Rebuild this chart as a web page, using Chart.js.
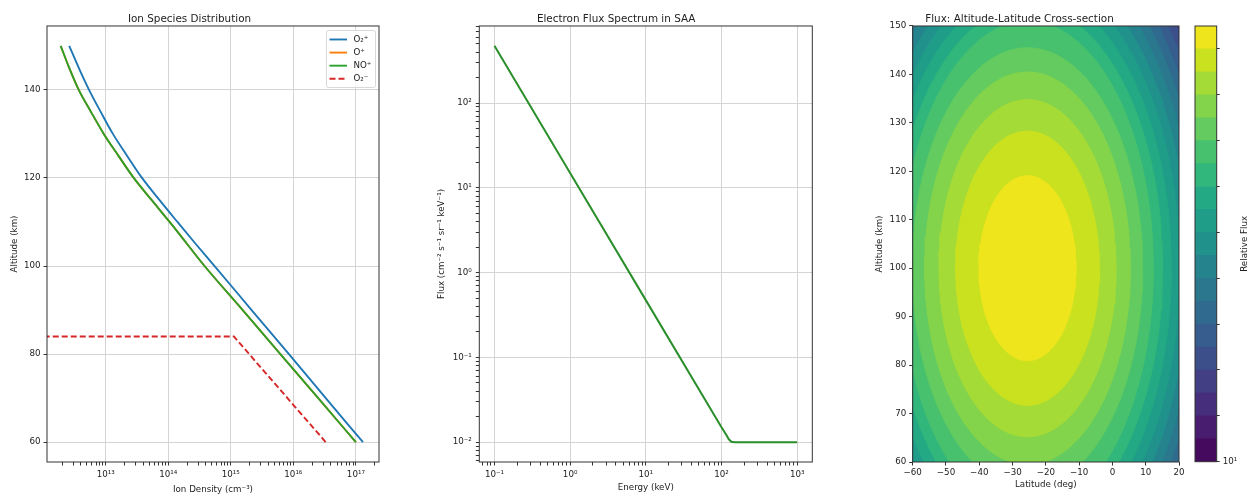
<!DOCTYPE html>
<html>
<head>
<meta charset="utf-8">
<script src="https://cdn.jsdelivr.net/npm/chart.js@4.4.1/dist/chart.umd.min.js"></script>
<style>
    html, body { margin: 0; padding: 0; background: #fff; }
    body { width: 1251px; height: 495px; position: relative; overflow: hidden; }
    .panel { position: absolute; top: 0; height: 495px; }
</style>
</head>
<body>
<div class="panel" style="left:0;width:400px"><canvas id="ionChart"></canvas></div>
<div class="panel" style="left:420px;width:420px"><canvas id="fluxChart"></canvas></div>
<div class="panel" style="left:860px;width:327px"><canvas id="crossChart"></canvas></div>
<div class="panel" style="left:1185px;width:66px"><canvas id="colorbarChart"></canvas></div>
<script>
"use strict";

// ---------------- Ion species (altitude vs density) ----------------
const altitudes = [150, 145, 140, 135, 130, 125, 120, 115, 110, 105, 100, 90, 80, 70, 60];
const o2PlusDensity = [2.6e12, 3.7e12, 5.4e12, 8.3e12, 1.3e13, 2.2e13, 3.8e13, 7.2e13, 1.4e14, 2.75e14, 5.5e14, 2.15e15, 8.5e15, 3.3e16, 1.3e17];
const oPlusDensity = [1.9e12, 2.6e12, 3.7e12, 5.8e12, 9.3e12, 1.6e13, 2.8e13, 5.4e13, 1.05e14, 2.0e14, 3.8e14, 1.55e15, 6.2e15, 2.5e16, 1.0e17];
const noPlusDensity = [1.9e12, 2.6e12, 3.7e12, 5.8e12, 9.3e12, 1.6e13, 2.8e13, 5.4e13, 1.05e14, 2.0e14, 3.8e14, 1.55e15, 6.2e15, 2.5e16, 1.0e17];
const o2MinusAltitudes = [84, 84, 60];
const o2MinusDensity = [1e11, 1.12e15, 3.3e16];
const ionLabels = ['O\u2082\u207A', 'O\u207A', 'NO\u207A', 'O\u2082\u207B'];
const densityTicks = [1e13, 1e14, 1e15, 1e16, 1e17];
const densityTickLabels = ['10\u00B9\u00B3', '10\u00B9\u2074', '10\u00B9\u2075', '10\u00B9\u2076', '10\u00B9\u2077'];
const altitudeTicks = [60, 80, 100, 120, 140];

// ---------------- Electron flux spectrum ----------------
const energies = [0.1, 1, 10, 100, 115, 125, 135, 150, 200, 1000];
const electronFlux = [474, 15, 0.474, 0.015, 0.0123, 0.0108, 0.0101, 0.01, 0.01, 0.01];
const energyTicks = [0.1, 1, 10, 100, 1000];
const energyTickLabels = ['10\u207B\u00B9', '10\u2070', '10\u00B9', '10\u00B2', '10\u00B3'];
const fluxTicks = [0.01, 0.1, 1, 10, 100];
const fluxTickLabels = ['10\u207B\u00B2', '10\u207B\u00B9', '10\u2070', '10\u00B9', '10\u00B2'];

// ---------------- Altitude-latitude cross-section ----------------
const peakLatitude = -25.5;
const peakAltitude = 100;
// half widths of each filled contour boundary, innermost first
const contourLatHalf = [14.6, 21.6, 26.6, 30.9, 34.6, 37.8, 40.6, 43.2, 45.7, 48.1, 50.4, 52.6, 54.7, 56.8, 58.8, 60.8, 62.8, 64.8];
const contourAltHalf = [19.1, 28.3, 34.8, 40.5, 45.5, 51.0, 54.2, 57.6, 60.8, 63.8, 66.7, 69.4, 72.0, 74.5, 76.9, 79.2, 81.5, 83.8];
const fluxLevels = [10, 15, 20, 25, 30, 35, 40, 45, 50, 55, 60, 65, 70, 75, 80, 85, 90, 95, 100, 105];
const fluxColors = ['#450a5d', '#481d6f', '#472e7c', '#423f85', '#3c4f8a', '#365d8d', '#306a8e', '#2b778e', '#25838e',
    '#21918c', '#1f9d89', '#23a983', '#31b67b', '#48c16e', '#63cb5f', '#84d44b', '#a5db36', '#cae11f', '#eee51c'];
const latitudeTicks = [-60, -50, -40, -30, -20, -10, 0, 10, 20];
const crossAltitudeTicks = [60, 70, 80, 90, 100, 110, 120, 130, 140, 150];
const colorbarTicks = [10, 20, 30, 40, 50, 60, 70, 80, 90, 100];

// ---------------- shared styling ----------------
const FONT = 'DejaVu Sans';
const TEXT = '#222';
const GRID = '#d4d4d4';
Chart.defaults.font.family = FONT;
Chart.defaults.color = TEXT;
Chart.defaults.animation = false;

function tickFont() { return { size: 8.7 }; }

function logTicks(lo, hi, majors) {
    const ticks = [];
    for (let e = Math.floor(Math.log10(lo)); e <= Math.ceil(Math.log10(hi)); e++) {
        for (let m = 1; m <= 9; m++) {
            const v = m * Math.pow(10, e);
            if (v >= lo && v <= hi) {
                const idx = majors.findIndex(t => Math.abs(Math.log10(t) - Math.log10(v)) < 1e-6);
                ticks.push({ value: v, minor: idx < 0, majorIndex: idx });
            }
        }
    }
    return ticks;
}

// axes frame like matplotlib spines
const frame = {
    id: 'frame',
    afterDatasetsDraw(chart) {
        const { ctx, chartArea: a } = chart;
        ctx.save();
        ctx.strokeStyle = '#333';
        ctx.lineWidth = 1;
        ctx.strokeRect(a.left, a.top, a.right - a.left, a.bottom - a.top);
        ctx.restore();
    }
};

// legend in the upper right corner of the ion chart
const ionLegend = {
    id: 'ionLegend',
    afterDraw(chart) {
        const { ctx, chartArea } = chart;
        const w = 49, h = 57;
        const x0 = chartArea.right - 4 - w;
        const y0 = chartArea.top + 4;
        ctx.save();
        ctx.fillStyle = 'rgba(255,255,255,0.85)';
        ctx.strokeStyle = '#d8d8d8';
        ctx.lineWidth = 1;
        ctx.beginPath();
        ctx.roundRect(x0 + 0.5, y0 + 0.5, w, h, 2);
        ctx.fill();
        ctx.stroke();
        ctx.font = '8.7px "' + FONT + '"';
        ctx.textBaseline = 'middle';
        chart.data.datasets.forEach((ds, i) => {
            const y = y0 + 9.5 + i * 13.1;
            ctx.strokeStyle = ds.borderColor;
            ctx.lineWidth = ds.borderWidth;
            ctx.setLineDash(ds.borderDash || []);
            ctx.beginPath();
            ctx.moveTo(x0 + 3.5, y);
            ctx.lineTo(x0 + 21, y);
            ctx.stroke();
            ctx.setLineDash([]);
            ctx.fillStyle = TEXT;
            ctx.fillText(ds.label, x0 + 27.5, y);
        });
        ctx.restore();
    }
};

function titleOpts(text) {
    return { display: true, text: text, color: TEXT, font: { size: 10.4, weight: 'normal' }, padding: { top: 7.5, bottom: 0.5 } };
}

// ================= Ion Species Distribution =================
const ionSeries = [o2PlusDensity, oPlusDensity, noPlusDensity];
const ionColors = ['#1f77b4', '#ff7f0e', '#2ca02c'];
const ionDatasets = ionSeries.map((dens, i) => ({
    label: ionLabels[i],
    data: dens.map((d, j) => ({ x: d, y: altitudes[j] })),
    borderColor: ionColors[i],
    borderWidth: 1.9,
    pointRadius: 0,
    showLine: true,
    cubicInterpolationMode: 'monotone',
    fill: false,
    order: 4 - i
}));
ionDatasets.push({
    label: ionLabels[3],
    data: o2MinusDensity.map((d, j) => ({ x: d, y: o2MinusAltitudes[j] })),
    borderColor: '#d62728',
    borderWidth: 1.9,
    borderDash: [6, 3],
    pointRadius: 0,
    showLine: true,
    fill: false,
    order: 1
});

const ionXMin = Math.pow(10, 12.06), ionXMax = Math.pow(10, 17.37);
new Chart(document.getElementById('ionChart'), {
    type: 'scatter',
    data: { datasets: ionDatasets },
    options: {
        responsive: true,
        maintainAspectRatio: false,
        layout: { padding: { top: 5.5, right: 21, left: 0, bottom: 0 } },
        plugins: { legend: { display: false }, tooltip: { enabled: false }, title: titleOpts('Ion Species Distribution') },
        scales: {
            x: {
                type: 'logarithmic',
                min: ionXMin,
                max: ionXMax,
                afterBuildTicks: s => { s.ticks = logTicks(ionXMin, ionXMax, densityTicks); },
                afterFit: s => { s.height = 33; },
                ticks: {
                    autoSkip: false, maxRotation: 0, font: tickFont(), padding: 4,
                    callback: (v, i, ticks) => ticks[i].minor ? '' : densityTickLabels[ticks[i].majorIndex]
                },
                grid: {
                    color: c => (c.tick && c.tick.minor) ? 'rgba(0,0,0,0)' : GRID,
                    tickColor: '#333', tickLength: 3.5
                },
                border: { display: false },
                title: { display: true, text: 'Ion Density (cm\u207B\u00B3)', font: { size: 8.7 }, padding: { top: 0, bottom: 0 } }
            },
            y: {
                type: 'linear',
                min: 55.5,
                max: 154.5,
                afterBuildTicks: s => { s.ticks = altitudeTicks.map(v => ({ value: v })); },
                afterFit: s => { s.width = 47; },
                ticks: { font: tickFont(), padding: 3 },
                grid: { color: GRID, tickColor: '#333', tickLength: 3.5 },
                border: { display: false },
                title: { display: true, text: 'Altitude (km)', font: { size: 8.7 }, padding: { top: 10, bottom: 0 } }
            }
        }
    },
    plugins: [frame, ionLegend]
});

// ================= Electron Flux Spectrum =================
const eXMin = Math.pow(10, -1.2), eXMax = Math.pow(10, 3.2);
const fYMin = Math.pow(10, -2.234), fYMax = Math.pow(10, 2.91);
new Chart(document.getElementById('fluxChart'), {
    type: 'scatter',
    data: {
        datasets: [{
            label: 'Flux',
            data: energies.map((e, i) => ({ x: e, y: electronFlux[i] })),
            borderColor: '#2a8f2a',
            borderWidth: 2,
            pointRadius: 0,
            showLine: true,
            fill: false
        }]
    },
    options: {
        responsive: true,
        maintainAspectRatio: false,
        layout: { padding: { top: 5.5, right: 27.7, left: 0, bottom: 0 } },
        plugins: { legend: { display: false }, tooltip: { enabled: false }, title: titleOpts('Electron Flux Spectrum in SAA') },
        scales: {
            x: {
                type: 'logarithmic',
                min: eXMin,
                max: eXMax,
                afterBuildTicks: s => { s.ticks = logTicks(eXMin, eXMax, energyTicks); },
                afterFit: s => { s.height = 33; },
                ticks: {
                    autoSkip: false, maxRotation: 0, font: tickFont(), padding: 4,
                    callback: (v, i, ticks) => ticks[i].minor ? '' : energyTickLabels[ticks[i].majorIndex]
                },
                grid: {
                    color: c => (c.tick && c.tick.minor) ? 'rgba(0,0,0,0)' : GRID,
                    tickColor: '#333', tickLength: 3.5
                },
                border: { display: false },
                title: { display: true, text: 'Energy (keV)', font: { size: 8.7 }, padding: { top: 0, bottom: 2.5 } }
            },
            y: {
                type: 'logarithmic',
                min: fYMin,
                max: fYMax,
                afterBuildTicks: s => { s.ticks = logTicks(fYMin, fYMax, fluxTicks); },
                afterFit: s => { s.width = 59.3; },
                ticks: {
                    autoSkip: false, font: tickFont(), padding: 4,
                    callback: (v, i, ticks) => ticks[i].minor ? '' : fluxTickLabels[ticks[i].majorIndex]
                },
                grid: {
                    color: c => (c.tick && c.tick.minor) ? 'rgba(0,0,0,0)' : GRID,
                    tickColor: '#333', tickLength: 3.5
                },
                border: { display: false },
                title: {
                    display: true,
                    text: 'Flux (cm\u207B\u00B2 s\u207B\u00B9 sr\u207B\u00B9 keV\u207B\u00B9)',
                    font: { size: 8.7 }, padding: { top: 16.5, bottom: 0 }
                }
            }
        }
    },
    plugins: [frame]
});

// ================= Flux: Altitude-Latitude Cross-section =================
function ellipsePoints(halfLat, halfAlt) {
    const pts = [];
    for (let i = 0; i <= 120; i++) {
        const a = (i / 120) * 2 * Math.PI;
        pts.push({ x: peakLatitude + halfLat * Math.cos(a), y: peakAltitude + halfAlt * Math.sin(a) });
    }
    return pts;
}

const crossDatasets = contourLatHalf.map((hl, k) => {
    const color = fluxColors[fluxColors.length - 1 - k];
    return {
        data: ellipsePoints(hl, contourAltHalf[k]),
        showLine: true,
        fill: 'shape',
        backgroundColor: color,
        borderColor: color,
        borderWidth: 1,
        pointRadius: 0,
        tension: 0,
        clip: 0,
        order: k
    };
});

const crossBackground = {
    id: 'crossBackground',
    beforeDatasetsDraw(chart) {
        const { ctx, chartArea: a } = chart;
        ctx.save();
        ctx.fillStyle = fluxColors[0];
        ctx.fillRect(a.left, a.top, a.right - a.left, a.bottom - a.top);
        ctx.restore();
    }
};

new Chart(document.getElementById('crossChart'), {
    type: 'scatter',
    data: { datasets: crossDatasets },
    options: {
        responsive: true,
        maintainAspectRatio: false,
        layout: { padding: { top: 5.5, right: 8, left: 0, bottom: 0 } },
        plugins: { legend: { display: false }, tooltip: { enabled: false }, title: titleOpts('Flux: Altitude-Latitude Cross-section') },
        scales: {
            x: {
                type: 'linear',
                min: -60,
                max: 20,
                afterBuildTicks: s => { s.ticks = latitudeTicks.map(v => ({ value: v })); },
                afterFit: s => { s.height = 33; },
                ticks: {
                    maxRotation: 0, font: tickFont(), padding: 2,
                    callback: v => String(v).replace('-', '\u2212')
                },
                grid: { drawOnChartArea: false, tickColor: '#333', tickLength: 3.5 },
                border: { display: false },
                title: { display: true, text: 'Latitude (deg)', font: { size: 8.7 }, padding: { top: 0, bottom: 4.8 } }
            },
            y: {
                type: 'linear',
                min: 60,
                max: 150,
                afterBuildTicks: s => { s.ticks = crossAltitudeTicks.map(v => ({ value: v })); },
                afterFit: s => { s.width = 52.7; },
                ticks: { font: tickFont(), padding: 3 },
                grid: { drawOnChartArea: false, tickColor: '#333', tickLength: 3.5 },
                border: { display: false },
                title: { display: true, text: 'Altitude (km)', font: { size: 8.7 }, padding: { top: 14.8, bottom: 0 } }
            }
        }
    },
    plugins: [crossBackground, frame]
});

// ================= Colorbar =================
const colorbarLabel = {
    id: 'colorbarLabel',
    afterDraw(chart) {
        const { ctx, chartArea: a } = chart;
        ctx.save();
        ctx.translate(60, (a.top + a.bottom) / 2);
        ctx.rotate(-Math.PI / 2);
        ctx.font = '8.7px "' + FONT + '"';
        ctx.fillStyle = TEXT;
        ctx.textAlign = 'center';
        ctx.textBaseline = 'middle';
        ctx.fillText('Relative Flux', 0, 0);
        ctx.restore();
    }
};

new Chart(document.getElementById('colorbarChart'), {
    type: 'bar',
    data: {
        labels: [''],
        datasets: fluxColors.map((c, i) => ({
            data: [[fluxLevels[i], fluxLevels[i + 1]]],
            backgroundColor: c,
            borderWidth: 0,
            grouped: false,
            barPercentage: 1,
            categoryPercentage: 1
        }))
    },
    options: {
        responsive: true,
        maintainAspectRatio: false,
        layout: { padding: { top: 26, right: 0, left: 10, bottom: 33.3 } },
        plugins: { legend: { display: false }, tooltip: { enabled: false } },
        scales: {
            x: { display: false },
            y: {
                position: 'right',
                min: 10,
                max: 105,
                afterBuildTicks: s => { s.ticks = colorbarTicks.map(v => ({ value: v })); },
                afterFit: s => { s.width = 34.3; },
                ticks: { font: tickFont(), padding: 3, callback: v => v === 10 ? '10\u00B9' : '' },
                grid: { drawOnChartArea: false, tickColor: '#333', tickLength: 3 },
                border: { display: false }
            }
        }
    },
    plugins: [frame, colorbarLabel]
});
</script>
</body>
</html>
